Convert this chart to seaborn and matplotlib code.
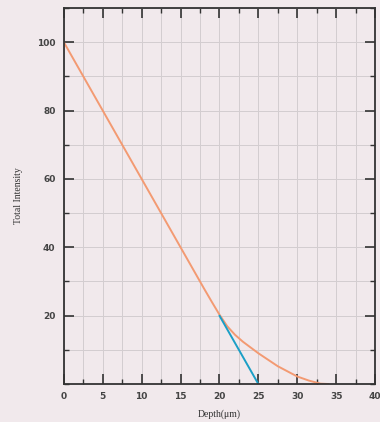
import numpy as np
import pandas as pd
import seaborn as sns
import matplotlib.pyplot as plt
from matplotlib.ticker import MultipleLocator

# Total intensity vs depth
depth = [0, 5, 10, 15, 18, 19, 20, 21, 22, 23, 25, 27.5, 30, 31.5, 33, 34]
intensity = [100, 80, 60, 40, 28, 24.1, 20.3, 16.9, 14.4, 12.4, 9.0, 5.2, 2.2, 1.0, 0.1, 0]
# straight extrapolation of the linear part
tangent_depth = [20, 25]
tangent_intensity = [20, 0]

curve = pd.DataFrame({'depth': depth, 'intensity': intensity})
tangent = pd.DataFrame({'depth': tangent_depth, 'intensity': tangent_intensity})

sns.set_style('ticks')
bg = '#f1e9ec'
fig = plt.figure(figsize=(3.8, 4.22), dpi=100, facecolor=bg)
ax = fig.add_axes([0.168, 0.090, 0.819, 0.891])
ax.set_facecolor(bg)

sns.lineplot(data=curve, x='depth', y='intensity', color='#f39a72', linewidth=1.4, ax=ax)
sns.lineplot(data=tangent, x='depth', y='intensity', color='#1b9fc6', linewidth=1.4, ax=ax)

ax.set_xlim(0, 40)
ax.set_ylim(0, 110)
ax.xaxis.set_major_locator(MultipleLocator(5))
ax.xaxis.set_minor_locator(MultipleLocator(2.5))
ax.set_yticks([20, 40, 60, 80, 100])
ax.yaxis.set_minor_locator(MultipleLocator(10))
ax.grid(which='both', color='#d3cdd0', linewidth=0.7)
ax.set_axisbelow(True)

ax.tick_params(which='both', direction='in', top=True, right=True, color='#333333')
ax.tick_params(which='major', length=7, width=1.2, labelsize=6.5, labelcolor='#444444', pad=6)
ax.tick_params(which='minor', length=3.5, width=1)
for lab in ax.get_xticklabels() + ax.get_yticklabels():
    lab.set_fontweight('bold')
for sp in ax.spines.values():
    sp.set_color('#333333')
    sp.set_linewidth(1.3)

ax.set_xlabel('Depth(\u03bcm)', family='Liberation Serif', fontsize=7, color='#333333', labelpad=6)
ax.set_ylabel('Total Intensity', family='Liberation Serif', fontsize=7, color='#333333', labelpad=10)

plt.savefig('out.png', facecolor=bg)
